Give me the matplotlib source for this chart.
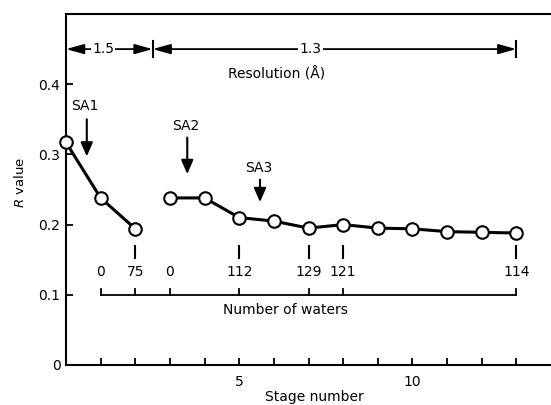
import matplotlib
matplotlib.use("Agg")
import matplotlib.pyplot as plt

plt.rcParams['font.family'] = ['DejaVu Sans']

# Data
stages_a = [0, 1, 2]
r_a = [0.317, 0.238, 0.194]
stages_b = [3, 4, 5, 6, 7, 8, 9, 10, 11, 12, 13]
r_b = [0.238, 0.238, 0.210, 0.205, 0.195, 0.200, 0.195, 0.194, 0.190, 0.189, 0.188]

water_stages = [1, 2, 3, 5, 7, 8, 13]
water_labels = ['0', '75', '0', '112', '129', '121', '114']
water_dash_stages = [2, 5, 7, 8, 13]

res_segments = [(0, 2.5, '1.5'), (2.5, 13, '1.3')]
res_label_x = [1.07, 7.05]
sa_labels = ['SA1', 'SA2', 'SA3']
sa_stage = [0.6, 3.5, 5.6]
sa_label_y = [0.369, 0.341, 0.28]
sa_arrow_top = [0.350, 0.324, 0.264]
sa_arrow_tip = [0.297, 0.272, 0.232]

xticks = list(range(1, 14))
xticklabels = ['' if t not in (5, 10) else str(t) for t in xticks]
yticks = [0, 0.1, 0.2, 0.3, 0.4]
yticklabels = ['0', '0.1', '0.2', '0.3', '0.4']

FS = 10

fig = plt.figure(figsize=(5.51, 4.05), dpi=100)
ax = fig.add_axes([66 / 551, 40 / 405, 1 - 66 / 551, 351 / 405])
ax.set_xlim(0, 14)
ax.set_ylim(0, 0.5)

for s in ['left', 'bottom', 'top']:
    ax.spines[s].set_linewidth(1.5)
ax.spines['right'].set_visible(False)

ax.set_xticks(xticks)
ax.set_xticklabels(xticklabels)
ax.set_yticks(yticks)
ax.set_yticklabels(yticklabels)
ax.tick_params(axis='both', direction='in', length=5, width=1.3, labelsize=FS)
ax.tick_params(axis='x', pad=7)
ax.tick_params(axis='y', pad=4)
ax.tick_params(top=False, right=False)

ax.set_xlabel('Stage number', fontsize=FS)
ax.xaxis.set_label_coords((7.17) / 14, -0.072)
ax.set_ylabel('$\\mathit{R}$ value', fontsize=9.5)
ax.yaxis.set_label_coords(-0.08, 0.52)

mk = dict(marker='o', markersize=9, markerfacecolor='white', markeredgecolor='black',
          markeredgewidth=1.5, color='black', linewidth=2.2, clip_on=False, zorder=5)
ax.plot(stages_a, r_a, **mk)
ax.plot(stages_b, r_b, **mk)

# Number of waters axis
ax.plot([water_stages[0], water_stages[-1]], [0.1, 0.1], color='black', lw=1.3)
for s, lab in zip(water_stages, water_labels):
    ax.plot([s, s], [0.1, 0.108], color='black', lw=1.3)
    ax.text(s, 0.133, lab, ha='center', va='center', fontsize=FS)
for s in water_dash_stages:
    ax.plot([s, s], [0.153, 0.169], color='black', lw=1.5)
ax.text(6.33, 0.079, 'Number of waters', ha='center', va='center', fontsize=FS)

# Resolution arrows
yr = 0.45
for (x0, x1, lab), lx in zip(res_segments, res_label_x):
    ax.annotate('', xy=(x0, yr), xytext=(x1, yr),
                arrowprops=dict(arrowstyle='<|-|>,head_length=0.9,head_width=0.25',
                                color='black', lw=1.3, shrinkA=0, shrinkB=0,
                                mutation_scale=12))
    ax.text(lx, yr, lab, ha='center', va='center',
            fontsize=FS, bbox=dict(facecolor='white', edgecolor='none', pad=1))
for xb in [2.5, 13]:
    ax.plot([xb, xb], [yr - 0.011, yr + 0.011], color='black', lw=1.5)
ax.text(6.07, 0.414, 'Resolution (Å)', ha='center', va='center', fontsize=FS)

# SA arrows
for lab, x, ly, yt, yb in zip(sa_labels, sa_stage, sa_label_y, sa_arrow_top, sa_arrow_tip):
    ax.text(x - 0.05, ly, lab, ha='center', va='center', fontsize=FS)
    ax.annotate('', xy=(x, yb), xytext=(x, yt),
                arrowprops=dict(arrowstyle='-|>,head_length=0.6,head_width=0.26',
                                color='black', lw=1.5, shrinkA=0, shrinkB=0,
                                mutation_scale=14))

fig.savefig('out.png', dpi=100)
